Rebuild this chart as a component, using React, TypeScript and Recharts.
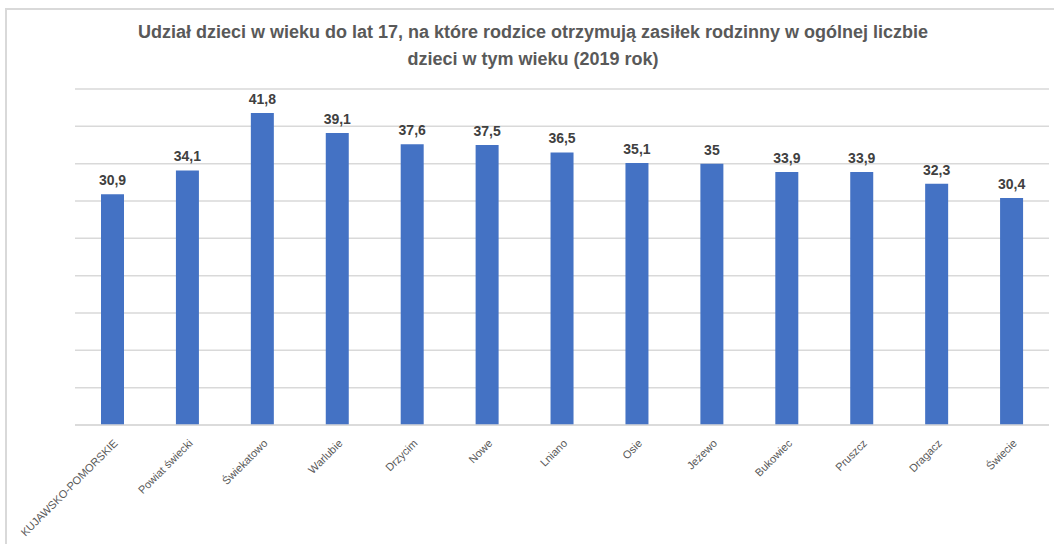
import { BarChart, Bar, XAxis, YAxis, CartesianGrid, LabelList } from "recharts";

const categories = [
	"KUJAWSKO-POMORSKIE",
	"Powiat świecki",
	"Świekatowo",
	"Warlubie",
	"Drzycim",
	"Nowe",
	"Lniano",
	"Osie",
	"Jeżewo",
	"Bukowiec",
	"Pruszcz",
	"Dragacz",
	"Świecie",
];

const values = [30.9, 34.1, 41.8, 39.1, 37.6, 37.5, 36.5, 35.1, 35, 33.9, 33.9, 32.3, 30.4];

const yTicks = [0, 5, 10, 15, 20, 25, 30, 35, 40, 45];

const titleLines = [
	"Udział dzieci w wieku do lat 17, na które rodzice otrzymują zasiłek rodzinny w ogólnej liczbie",
	"dzieci w tym wieku (2019 rok)",
];

const data = categories.map((name, i) => ({ name, value: values[i] }));

const font = "'Liberation Sans', Arial, sans-serif";

const RotatedTick = (props: any) => {
	const { x, y, payload } = props;
	return (
		<g transform={`translate(${x + 6},${y + 11})`}>
			<text
				transform="rotate(-45)"
				textAnchor="end"
				fontSize={11}
				fill="#595959"
				fontFamily={font}
			>
				{payload.value}
			</text>
		</g>
	);
};

export default function App() {
	return (
		<div
			style={{
				position: "absolute",
				left: 0,
				top: 0,
				width: 1054,
				height: 544,
				background: "#fff",
				overflow: "hidden",
				fontFamily: font,
			}}
		>
			<div
				style={{
					position: "absolute",
					left: 5,
					top: 8,
					width: 1060,
					height: 560,
					borderLeft: "2px solid #d9d9d9",
					borderTop: "2px solid #d9d9d9",
				}}
			/>
			<div
				style={{
					position: "absolute",
					left: 0,
					top: 19,
					width: 1066,
					textAlign: "center",
					fontSize: 18,
					fontWeight: "bold",
					color: "#595959",
					lineHeight: "27px",
				}}
			>
				{titleLines.map((t) => (
					<div key={t}>{t}</div>
				))}
			</div>
			<BarChart
				width={1054}
				height={544}
				data={data}
				margin={{ top: 89, right: 5, bottom: 0, left: 75 }}
				style={{ position: "absolute", left: 0, top: 0 }}
			>
				<CartesianGrid vertical={false} stroke="#d9d9d9" strokeWidth={1.5} />
				<XAxis
					dataKey="name"
					interval={0}
					height={119}
					tickLine={false}
					axisLine={{ stroke: "#d9d9d9", strokeWidth: 1.5 }}
					tick={<RotatedTick />}
				/>
				<YAxis hide domain={[0, 45]} ticks={yTicks} />
				<Bar dataKey="value" fill="#4472c4" barSize={23} isAnimationActive={false}>
					<LabelList
						dataKey="value"
						position="top"
						offset={9}
						fill="#404040"
						fontSize={14}
						fontWeight="bold"
						fontFamily={font}
						formatter={(v: any) => String(v).replace(".", ",")}
					/>
				</Bar>
			</BarChart>
		</div>
	);
}
